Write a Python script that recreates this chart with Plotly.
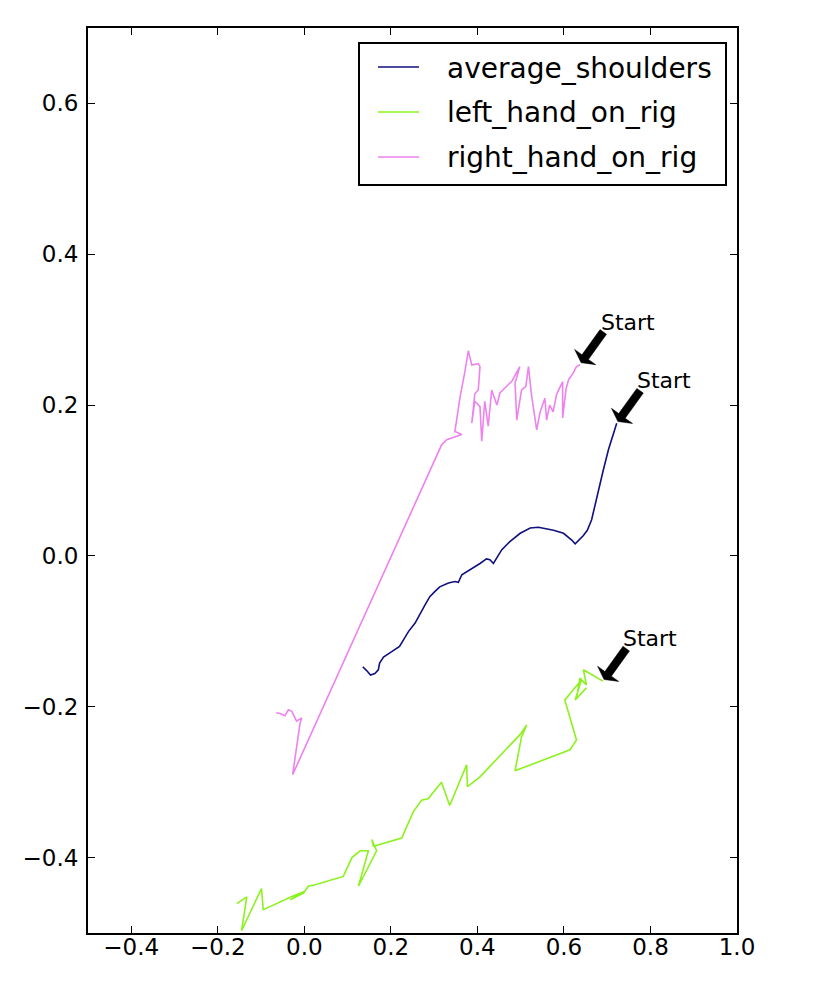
import math
import plotly.graph_objects as go

# ---------------- data (start -> end) ----------------
shoulders_x = [0.722, 0.703, 0.691, 0.680, 0.672, 0.664, 0.654, 0.645, 0.626, 0.618, 0.599, 0.576,
               0.541, 0.522, 0.499, 0.475, 0.456, 0.437, 0.429, 0.421, 0.406, 0.383, 0.364, 0.356,
               0.348, 0.333, 0.313, 0.302, 0.290, 0.279, 0.267, 0.256, 0.241, 0.229, 0.220, 0.202,
               0.183, 0.174, 0.171, 0.163, 0.153, 0.144, 0.135]
shoulders_y = [0.176, 0.141, 0.114, 0.088, 0.066, 0.048, 0.034, 0.027, 0.016, 0.021, 0.030, 0.034,
               0.038, 0.037, 0.030, 0.019, 0.008, -0.010, -0.005, -0.004, -0.010, -0.018, -0.025, -0.035,
               -0.034, -0.036, -0.041, -0.047, -0.054, -0.065, -0.078, -0.089, -0.100, -0.111, -0.120, -0.127,
               -0.134, -0.142, -0.151, -0.156, -0.158, -0.152, -0.147]

left_x = [0.690, 0.645, 0.652, 0.637, 0.629, 0.652, 0.626, 0.640, 0.602, 0.629, 0.614, 0.487,
          0.502, 0.514, 0.500, 0.429, 0.406, 0.377, 0.375, 0.336, 0.317, 0.286, 0.271, 0.252,
          0.225, 0.160, 0.156, 0.167, 0.125, 0.148, 0.129, 0.110, 0.090, 0.025, 0.009, -0.002,
          -0.033, 0.000, -0.030, -0.087, -0.095, -0.099, -0.145, -0.133, -0.156]
left_y = [-0.166, -0.151, -0.171, -0.162, -0.189, -0.175, -0.191, -0.165, -0.191, -0.244, -0.257, -0.285,
          -0.240, -0.224, -0.236, -0.279, -0.293, -0.306, -0.277, -0.331, -0.300, -0.322, -0.324, -0.339,
          -0.374, -0.385, -0.376, -0.391, -0.438, -0.391, -0.391, -0.400, -0.425, -0.436, -0.438, -0.447,
          -0.456, -0.445, -0.452, -0.467, -0.469, -0.441, -0.497, -0.452, -0.461]

right_x = [0.637, 0.628, 0.622, 0.611, 0.605, 0.597, 0.597, 0.583, 0.575, 0.567, 0.560, 0.556,
           0.545, 0.537, 0.525, 0.518, 0.512, 0.502, 0.491, 0.487, 0.498, 0.480, 0.471, 0.460,
           0.452, 0.445, 0.433, 0.425, 0.417, 0.410, 0.406, 0.394, 0.387, 0.394, 0.402, 0.406,
           0.402, 0.387, 0.379, 0.371, 0.360, 0.348, 0.364, 0.329, 0.317, -0.027, -0.010, -0.006,
           -0.018, -0.029, -0.037, -0.045, -0.056, -0.065]
right_y = [0.254, 0.250, 0.243, 0.234, 0.222, 0.183, 0.231, 0.214, 0.191, 0.200, 0.180, 0.209,
           0.191, 0.167, 0.214, 0.251, 0.225, 0.220, 0.180, 0.229, 0.251, 0.232, 0.227, 0.221,
           0.216, 0.200, 0.220, 0.172, 0.205, 0.152, 0.198, 0.205, 0.176, 0.215, 0.220, 0.251,
           0.255, 0.253, 0.272, 0.244, 0.211, 0.165, 0.161, 0.154, 0.147, -0.290, -0.222, -0.215,
           -0.219, -0.206, -0.204, -0.212, -0.209, -0.208]

series_names = ["average_shoulders", "left_hand_on_rig", "right_hand_on_rig"]
series_colors = ["#10107f", "#8cf21e", "#ee82ee"]
x_ticks = [-0.4, -0.2, 0.0, 0.2, 0.4, 0.6, 0.8, 1.0]
y_ticks = [-0.4, -0.2, 0.0, 0.2, 0.4, 0.6]
annotation_text = "Start"

# ---------------- layout constants ----------------
BODY = 8                      # default page margin around the plot div
W, H = 829 - BODY, 997 - BODY
ML, MR, MT, MB = 88 - BODY, 92, 28 - BODY, 64
XR = [-0.5, 1.0]
YR = [-0.5, 0.7]
plot_w = W - ML - MR
plot_h = H - MT - MB
sx = plot_w / (XR[1] - XR[0])
sy = plot_h / (YR[1] - YR[0])
FONT = "DejaVu Sans"


def px_x(page_px):
    return (page_px - (ML + BODY)) / plot_w


def px_y(page_py):
    return (MT + BODY + plot_h - page_py) / plot_h


fig = go.Figure()
for xs, ys, name, col in zip([shoulders_x, left_x, right_x], [shoulders_y, left_y, right_y],
                             series_names, series_colors):
    fig.add_trace(go.Scatter(x=xs, y=ys, mode="lines", name=name, showlegend=False,
                             line=dict(color=col, width=1.6)))


def arrow_path(p, t, shaft=8.0, headw=26.0, headl=7.0, shrink=2.0):
    Px, Py = p[0] * sx, p[1] * sy
    Tx, Ty = t[0] * sx, t[1] * sy
    dx, dy = Px - Tx, Py - Ty
    L = math.hypot(dx, dy)
    ux, uy = dx / L, dy / L
    nx, ny = -uy, ux
    tipx, tipy = Px - ux * shrink, Py - uy * shrink
    bx, by = tipx - ux * headl, tipy - uy * headl
    pts = [
        (Tx + nx * shaft / 2, Ty + ny * shaft / 2),
        (bx + nx * shaft / 2, by + ny * shaft / 2),
        (bx + nx * headw / 2, by + ny * headw / 2),
        (tipx, tipy),
        (bx - nx * headw / 2, by - ny * headw / 2),
        (bx - nx * shaft / 2, by - ny * shaft / 2),
        (Tx - nx * shaft / 2, Ty - ny * shaft / 2),
    ]
    return "M " + " L ".join(f"{x / sx:.5f},{y / sy:.5f}" for x, y in pts) + " Z"


TAIL_OFF = (0.054, 0.043)
TEXT_OFF = (0.043, 0.056)
for xs, ys in [(shoulders_x, shoulders_y), (left_x, left_y), (right_x, right_y)]:
    p = (xs[0], ys[0])
    t = (p[0] + TAIL_OFF[0], p[1] + TAIL_OFF[1])
    fig.add_shape(type="path", path=arrow_path(p, t), xref="x", yref="y",
                  fillcolor="black", line=dict(color="black", width=0.5), layer="above")
    fig.add_annotation(x=p[0] + TEXT_OFF[0], y=p[1] + TEXT_OFF[1], xref="x", yref="y",
                       text=annotation_text, showarrow=False, xanchor="left", yanchor="middle",
                       font=dict(family=FONT, size=22, color="black"))

# ---------------- legend (drawn box, samples and labels) ----------------
LEG_L, LEG_R, LEG_T, LEG_B = 359, 726, 43, 185
fig.add_shape(type="rect", xref="paper", yref="paper",
              x0=px_x(LEG_L), x1=px_x(LEG_R), y0=px_y(LEG_B), y1=px_y(LEG_T),
              line=dict(color="black", width=2), fillcolor="white", layer="above")
for i, (name, col) in enumerate(zip(series_names, series_colors)):
    yc = 67 + i * 45
    fig.add_shape(type="line", xref="paper", yref="paper",
                  x0=px_x(378), x1=px_x(419), y0=px_y(yc), y1=px_y(yc),
                  line=dict(color=col, width=1.6), layer="above")
    fig.add_annotation(x=px_x(445), y=px_y(yc + 1), xref="paper", yref="paper",
                       text=name, showarrow=False, xanchor="left", yanchor="middle",
                       font=dict(family=FONT, size=28, color="black"))

axis_common = dict(showgrid=False, zeroline=False, showline=True, linecolor="black", linewidth=2,
                   mirror="ticks", ticks="inside", ticklen=7, tickwidth=1, tickcolor="black",
                   tickformat=".1f", tickfont=dict(family=FONT, size=23, color="black"))

fig.update_layout(
    width=W, height=H,
    margin=dict(l=ML, r=MR, t=MT, b=MB),
    paper_bgcolor="white", plot_bgcolor="white",
    xaxis=dict(range=XR, tickvals=x_ticks, ticklabelstandoff=-8, **axis_common),
    yaxis=dict(range=YR, tickvals=y_ticks, ticklabelstandoff=3, **axis_common),
    showlegend=False,
)

fig.write_html("out.html")
